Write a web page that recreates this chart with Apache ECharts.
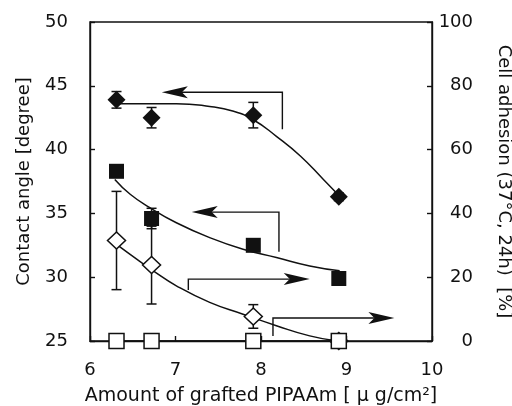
<!DOCTYPE html>
<html>
<head>
<meta charset="utf-8">
<script src="https://cdn.jsdelivr.net/npm/echarts@6/dist/echarts.min.js"></script>
<style>
  html, body { margin: 0; padding: 0; background: #fff; }
  #chart { width: 512px; height: 406px; }
</style>
</head>
<body>
<div id="chart"></div>
<script>
// x positions of the measured samples (ug/cm2)
const graftX = [6.31, 6.72, 7.91, 8.91];

// contact angle [degree], left axis
const angleDiamond = [43.9, 42.5, 42.7, 36.3];
const angleDiamondErr = [0.65, 0.8, 1.0, 0.3];
const angleSquare = [38.3, 34.6, 32.5, 29.9];
const angleSquareErr = [0, 0.8, 0, 0];

// cell adhesion [%], right axis
const adhesionDiamond = [31.5, 23.8, 7.7, 0];
const adhesionDiamondErr = [15.4, 12.2, 3.7, 0.5];
const adhesionSquare = [0, 0, 0, 0];

// fitted curves
const fitDiamondX = [6.33, 7.01, 7.40, 7.68, 7.91, 8.18, 8.46, 8.73, 8.92];
const fitDiamondY = [43.6, 43.6, 43.38, 43.0, 42.34, 41.04, 39.5, 37.66, 36.35];
const fitSquareX = [6.29, 6.47, 6.70, 7.01, 7.40, 7.79, 8.18, 8.57, 8.92];
const fitSquareY = [37.66, 36.5, 35.45, 34.27, 33.1, 32.19, 31.54, 30.88, 30.5];
const fitOpenX = [6.31, 6.55, 6.74, 7.01, 7.40, 7.79, 8.18, 8.57, 8.89];
const fitOpenY = [30.3, 25.6, 22.0, 17.3, 12.1, 8.4, 4.8, 1.6, 0];

// arrows: [corner x, top y, bottom y, tip x] in left-axis units
const arrows = [
  [8.25, 44.5, 41.6, 6.84],
  [8.21, 35.1, 32.0, 7.19],
  [7.15, 29.85, 29.0, 8.57],
  [8.14, 26.8, 25.4, 9.56]
];

const xTicks = [6, 7, 8, 9, 10];
const leftTicks = [25, 30, 35, 40, 45, 50];
const rightTicks = [0, 20, 40, 60, 80, 100];

const FONT = '"DejaVu Sans", sans-serif';
const INK = '#111';

function zip(xs, ys) { return xs.map((x, i) => [x, ys[i]]); }
function withErr(ys, es) { return graftX.map((x, i) => [x, ys[i], es[i]]); }

function renderErr(params, api) {
  const err = api.value(2);
  if (!err) return null;
  const x = api.value(0), y = api.value(1);
  const hi = api.coord([x, y + err]);
  const lo = api.coord([x, y - err]);
  const cap = 5;
  const st = { stroke: INK, lineWidth: 1.5 };
  return {
    type: 'group',
    children: [
      { type: 'line', shape: { x1: hi[0], y1: hi[1], x2: lo[0], y2: lo[1] }, style: st },
      { type: 'line', shape: { x1: hi[0] - cap, y1: hi[1], x2: hi[0] + cap, y2: hi[1] }, style: st },
      { type: 'line', shape: { x1: lo[0] - cap, y1: lo[1], x2: lo[0] + cap, y2: lo[1] }, style: st }
    ]
  };
}

function renderArrow(params, api) {
  const cx = api.value(0), top = api.value(1), bot = api.value(2), tip = api.value(3);
  const pBot = api.coord([cx, bot]);
  const pTop = api.coord([cx, top]);
  const pTip = api.coord([tip, top]);
  const dir = pTip[0] < pTop[0] ? 1 : -1; // head opens back toward the corner
  const L = 26, W = 6, N = 20;
  return {
    type: 'group',
    children: [
      {
        type: 'polyline',
        shape: { points: [pBot, pTop, [pTip[0] + dir * N, pTip[1]]] },
        style: { stroke: INK, lineWidth: 1.4, fill: null }
      },
      {
        type: 'polygon',
        shape: { points: [
          pTip,
          [pTip[0] + dir * L, pTip[1] - W],
          [pTip[0] + dir * N, pTip[1]],
          [pTip[0] + dir * L, pTip[1] + W]
        ] },
        style: { fill: INK }
      }
    ]
  };
}

const chart = echarts.init(document.getElementById('chart'));

const axisText = { color: INK, fontFamily: FONT, fontSize: 18 };

const fitLine = { smooth: true, showSymbol: false, lineStyle: { color: INK, width: 1.5 }, z: 2 };

chart.setOption({
  animation: false,
  backgroundColor: '#fff',
  grid: {
    left: 90, right: 80, top: 22, bottom: 65,
    outerBoundsMode: 'none', containLabel: false,
    show: true, borderColor: INK, borderWidth: 1.4, backgroundColor: 'transparent'
  },
  xAxis: {
    type: 'value', min: xTicks[0], max: xTicks[xTicks.length - 1], interval: 1,
    name: 'Amount of grafted PIPAAm [ \u03bc g/cm\u00b2]',
    nameLocation: 'middle', nameGap: 46,
    nameTextStyle: Object.assign({}, axisText, { fontSize: 19 }),
    axisLine: { lineStyle: { color: INK, width: 1.4 } },
    axisTick: { inside: true, length: 5, lineStyle: { color: INK, width: 1.4 } },
    axisLabel: Object.assign({ margin: 20 }, axisText),
    splitLine: { show: false }
  },
  yAxis: [
    {
      type: 'value', min: leftTicks[0], max: leftTicks[leftTicks.length - 1], interval: 5,
      name: 'Contact angle [degree]',
      nameLocation: 'middle', nameGap: 57,
      nameTextStyle: axisText,
      axisLine: { show: true, lineStyle: { color: INK, width: 1.4 } },
      axisTick: { show: true, inside: true, length: 5, lineStyle: { color: INK, width: 1.4 } },
      axisLabel: Object.assign({ margin: 22 }, axisText),
      splitLine: { show: false }
    },
    {
      type: 'value', min: rightTicks[0], max: rightTicks[rightTicks.length - 1], interval: 20,
      position: 'right',
      name: 'Cell adhesion (37\u00b0C, 24h)  [%]',
      nameLocation: 'middle', nameGap: 63, nameRotate: -90,
      nameTextStyle: axisText,
      axisLine: { show: true, lineStyle: { color: INK, width: 1.4 } },
      axisTick: { show: true, inside: true, length: 5, lineStyle: { color: INK, width: 1.4 } },
      axisLabel: Object.assign({ margin: 41, align: 'right' }, axisText),
      splitLine: { show: false }
    }
  ],
  series: [
    // fitted curves
    Object.assign({ type: 'line', yAxisIndex: 0, data: zip(fitDiamondX, fitDiamondY) }, fitLine),
    Object.assign({ type: 'line', yAxisIndex: 0, data: zip(fitSquareX, fitSquareY) }, fitLine),
    Object.assign({ type: 'line', yAxisIndex: 1, data: zip(fitOpenX, fitOpenY) }, fitLine),
    {
      type: 'line', yAxisIndex: 1, data: zip(graftX, adhesionSquare),
      showSymbol: false, lineStyle: { color: INK, width: 1.5 }, z: 2
    },
    // error bars
    { type: 'custom', yAxisIndex: 0, renderItem: renderErr, data: withErr(angleDiamond, angleDiamondErr), z: 3 },
    { type: 'custom', yAxisIndex: 0, renderItem: renderErr, data: withErr(angleSquare, angleSquareErr), z: 3 },
    { type: 'custom', yAxisIndex: 1, renderItem: renderErr, data: withErr(adhesionDiamond, adhesionDiamondErr), z: 3 },
    // arrows
    { type: 'custom', yAxisIndex: 0, renderItem: renderArrow, data: arrows, z: 3 },
    // markers
    {
      type: 'scatter', yAxisIndex: 0, data: zip(graftX, angleDiamond),
      symbol: 'diamond', symbolSize: [18, 18],
      itemStyle: { color: INK, opacity: 1 }, z: 5
    },
    {
      type: 'scatter', yAxisIndex: 0, data: zip(graftX, angleSquare),
      symbol: 'rect', symbolSize: [15, 15],
      itemStyle: { color: INK, opacity: 1 }, z: 5
    },
    {
      type: 'scatter', yAxisIndex: 1, data: zip(graftX, adhesionDiamond),
      symbol: 'diamond', symbolSize: [18, 17],
      itemStyle: { color: '#fff', borderColor: INK, borderWidth: 1.5, opacity: 1 }, z: 5
    },
    {
      type: 'scatter', yAxisIndex: 1, data: zip(graftX, adhesionSquare),
      symbol: 'rect', symbolSize: [15, 15],
      itemStyle: { color: '#fff', borderColor: INK, borderWidth: 1.5, opacity: 1 }, z: 6
    }
  ]
});
</script>
</body>
</html>
